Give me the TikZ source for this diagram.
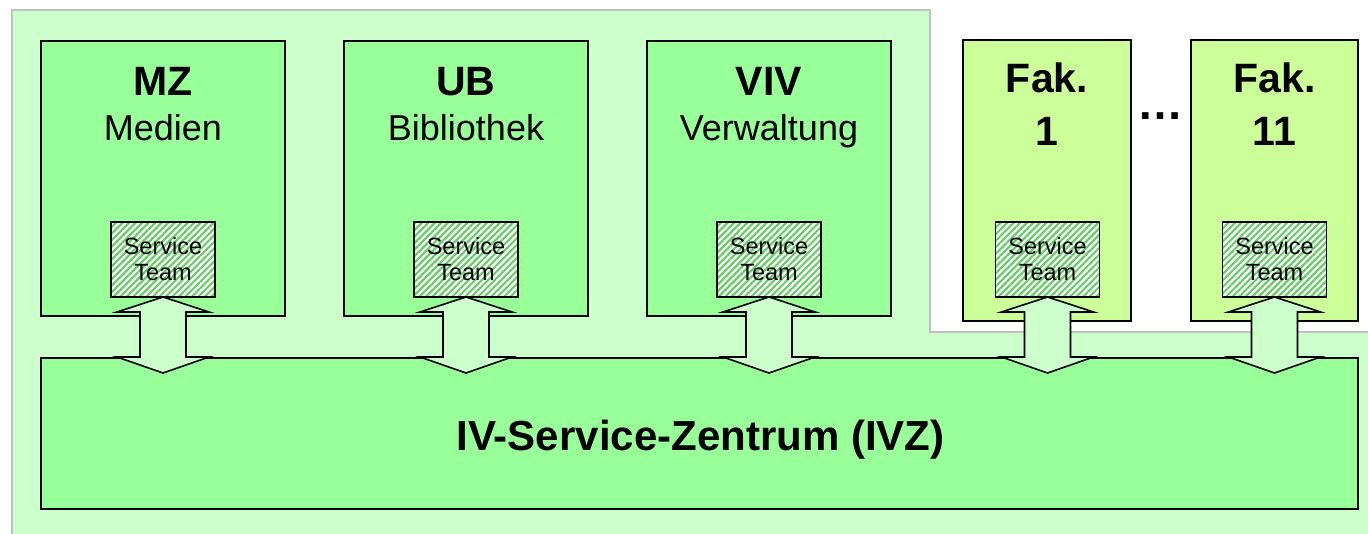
\documentclass[tikz,border=0pt]{standalone}
\usepackage{fontspec}
\setmainfont{Liberation Sans}
\usetikzlibrary{patterns.meta}
\definecolor{bgl}{HTML}{CCFFCC}
\definecolor{boxg}{HTML}{99FF99}
\definecolor{fakg}{HTML}{CCFF99}
\definecolor{edgegray}{HTML}{C0C0C0}
\definecolor{hatchg}{RGB}{95,205,95}
\tikzset{
  unitbox/.style={draw=black, line width=1.8pt, inner sep=0pt, outer sep=0pt},
  stbox/.style={draw=black, line width=1.6pt, inner sep=0pt, outer sep=0pt,
    minimum width=104pt, minimum height=75pt, preaction={fill=white},
    pattern={Lines[angle=45,distance=4.6pt,line width=2pt]}, pattern color=hatchg,
    align=center, font=\fontsize{23.5}{26}\selectfont},
  title/.style={anchor=base, inner sep=0pt, font=\bfseries\fontsize{41}{49}\selectfont},
  sub/.style={anchor=base, inner sep=0pt, font=\fontsize{36}{43}\selectfont},
  dblarrow/.style={draw=black, line width=1.6pt, fill=bgl, line join=miter},
}
\begin{document}
\begin{tikzpicture}[x=1pt,y=-1pt]
\useasboundingbox (0,0) rectangle (1368,534);
% background region
\draw[fill=bgl, draw=edgegray, line width=1.5pt]
  (12,10) -- (930,10) -- (930,332) -- (1375,332) -- (1375,545) -- (12,545) -- cycle;
% unit boxes
\node[unitbox, fill=boxg, minimum width=244pt, minimum height=275pt] (mz) at (163,178.5) {};
\node[unitbox, fill=boxg, minimum width=244pt, minimum height=275pt] (ub) at (466,178.5) {};
\node[unitbox, fill=boxg, minimum width=244pt, minimum height=275pt] (viv) at (769,178.5) {};
\node[unitbox, fill=fakg, minimum width=168pt, minimum height=281pt] (fak1) at (1047,180.5) {};
\node[unitbox, fill=fakg, minimum width=167pt, minimum height=281pt] (fak11) at (1274.5,180.5) {};
% titles
\node[title] (mzt) at (163,96) {MZ};
\node[sub] (mzs) at (163,141) {Medien};
\node[title] (ubt) at (466,96) {UB};
\node[sub] (ubs) at (466,141) {Bibliothek};
\node[title] (vivt) at (769,96) {VIV};
\node[sub] (vivs) at (769,141) {Verwaltung};
\node[title] (f1a) at (1047,93) {Fak.};
\node[title] (f1b) at (1047,146) {1};
\node[title] (f11a) at (1274.5,93) {Fak.};
\node[title] (f11b) at (1274.5,146) {11};
\node[anchor=base, inner sep=0pt, font=\bfseries\fontsize{46}{50}\selectfont] (dots) at (1160,120) {…};
% service teams
\node[stbox] (st1) at (163,259.5) {Service\\Team};
\node[stbox] (st2) at (466,259.5) {Service\\Team};
\node[stbox] (st3) at (769,259.5) {Service\\Team};
\node[stbox] (st4) at (1047.5,259.5) {Service\\Team};
\node[stbox] (st5) at (1274.5,259.5) {Service\\Team};
% IVZ
\node[unitbox, fill=boxg, minimum width=1317pt, minimum height=151pt] (ivz) at (699.5,433.5) {};
\node[anchor=base, inner sep=0pt, font=\bfseries\fontsize{42}{50}\selectfont] (ivzt) at (700.5,450) {IV-Service-Zentrum (IVZ)};
% double arrows
\foreach \s in {st1,st2,st3,st4,st5}{
  \draw[dblarrow] (\s.south) -- ++(46,15) -- ++(-23,0) -- ++(0,45) -- ++(23,0)
    -- ++(-46,16) -- ++(-46,-16) -- ++(23,0) -- ++(0,-45) -- ++(-23,0) -- cycle;
}
\end{tikzpicture}
\end{document}
